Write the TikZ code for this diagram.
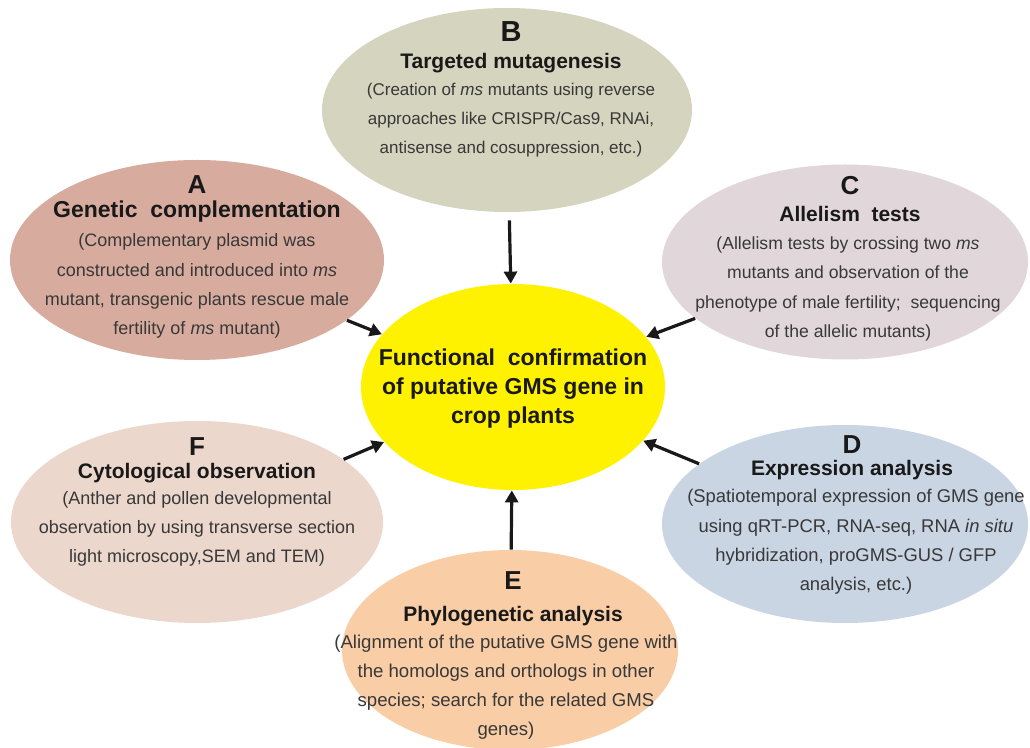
\documentclass[tikz,border=0pt]{standalone}
\usepackage{fontspec}
\setmainfont{Liberation Sans}
\usepackage{tikz}
\usetikzlibrary{arrows.meta}
\usetikzlibrary{shapes.geometric}

\definecolor{fillA}{RGB}{215,172,158}
\definecolor{fillB}{RGB}{213,212,190}
\definecolor{fillC}{RGB}{225,215,218}
\definecolor{fillD}{RGB}{202,213,228}
\definecolor{fillE}{RGB}{249,206,166}
\definecolor{fillF}{RGB}{236,215,205}
\definecolor{fillGMS}{RGB}{255,242,0}

\begin{document}
\begin{tikzpicture}[x=0.5pt,y=-0.5pt]
    \tikzstyle{bubble}=[ellipse,draw=none,inner sep=0pt]
    \tikzstyle{letter}=[anchor=base,font=\fontsize{13}{15}\selectfont\bfseries,text=black!90]
    \tikzstyle{title}=[anchor=base,font=\fontsize{10.5}{13}\selectfont\bfseries,text=black!90]
    \tikzstyle{body}=[font=\fontsize{9}{14.6}\selectfont,text=black!78,align=center]
    \tikzstyle{goal}=[font=\fontsize{11.5}{14.3}\selectfont\bfseries,text=black!90,align=center]
    \tikzstyle{edge}=[draw=black!90,line width=1.6pt,-{Triangle[length=6pt,width=6.5pt]}]

    \useasboundingbox (0,0) rectangle (1030,748);
    \fill[white] (0,0) rectangle (1030,748);

    % outer bubbles
    \node[bubble,fill=fillB,minimum width=185pt,minimum height=102pt] (B) at (507,110) {};
    \node[bubble,fill=fillA,minimum width=187pt,minimum height=100pt] (A) at (197,260) {};
    \node[bubble,fill=fillC,minimum width=183pt,minimum height=97.5pt] (C) at (845,262) {};
    \node[bubble,fill=fillF,minimum width=186pt,minimum height=101pt] (F) at (197,522) {};
    \node[bubble,fill=fillD,minimum width=183pt,minimum height=99pt] (D) at (845,524) {};
    \node[bubble,fill=fillE,minimum width=168pt,minimum height=100pt] (E) at (510,650) {};

    % centre
    \node[bubble,fill=fillGMS,minimum width=152pt,minimum height=103pt] (GMS) at (513,387) {};
    \node[goal] (GMStext) at (513,388.5) {Functional\ \ confirmation\\of putative GMS gene in\\crop plants};

    % A
    \node[letter] (Aletter) at (197,194) {A};
    \node[title,font=\fontsize{11.5}{13}\selectfont\bfseries] (Atitle) at (197,218) {Genetic\ \ complementation};
    \node[body]   (Abody)   at (197,286) {(Complementary plasmid was\\constructed and introduced into \textit{ms}\\mutant, transgenic plants rescue male\\fertility of \textit{ms} mutant)};

    % B
    \node[letter,font=\fontsize{14.5}{16}\selectfont\bfseries] (Bletter) at (511,42) {B};
    \node[title]  (Btitle)  at (511,69) {Targeted mutagenesis};
    \node[body,font=\fontsize{8.5}{14.6}\selectfont] (Bbody) at (511,120) {(Creation of \textit{ms} mutants using reverse\\approaches like CRISPR/Cas9, RNAi,\\antisense and cosuppression, etc.)};

    % C
    \node[letter] (Cletter) at (850,195) {C};
    \node[title]  (Ctitle)  at (850,222) {Allelism\ \ tests};
    \node[body,font=\fontsize{8.8}{14.6}\selectfont] (Cbody) at (848,289) {(Allelism tests by crossing two \textit{ms}\\mutants and observation of the\\phenotype of male fertility;\ \ sequencing\\of the allelic mutants)};

    % D
    \node[letter] (Dletter) at (852,454) {D};
    \node[title]  (Dtitle)  at (852,476) {Expression analysis};
    \node[body,font=\fontsize{9.2}{14.6}\selectfont] (Dbody) at (856,542) {(Spatiotemporal expression of GMS gene\\using qRT-PCR, RNA-seq, RNA \textit{in situ}\\hybridization, proGMS-GUS / GFP\\analysis, etc.)};

    % E
    \node[letter] (Eletter) at (513,590) {E};
    \node[title]  (Etitle)  at (513,622) {Phylogenetic analysis};
    \node[body,font=\fontsize{9.3}{14.6}\selectfont] (Ebody) at (506,687) {(Alignment of the putative GMS gene with\\the homologs and orthologs in other\\species; search for the related GMS\\genes)};

    % F
    \node[letter] (Fletter) at (197,456) {F};
    \node[title]  (Ftitle)  at (197,479) {Cytological observation};
    \node[body]   (Fbody)   at (197,529) {(Anther and pollen developmental\\observation by using transverse section\\light microscopy,SEM and TEM)};

    % arrows
    \path[edge] (A) -- (GMS);
    \path[edge,shorten <=4pt] (B) -- (GMS);
    \path[edge] (C) -- (GMS);
    \path[edge] (D) -- (GMS);
    \path[edge] (E) -- (GMS);
    \path[edge] (F) -- (GMS);
\end{tikzpicture}
\end{document}
